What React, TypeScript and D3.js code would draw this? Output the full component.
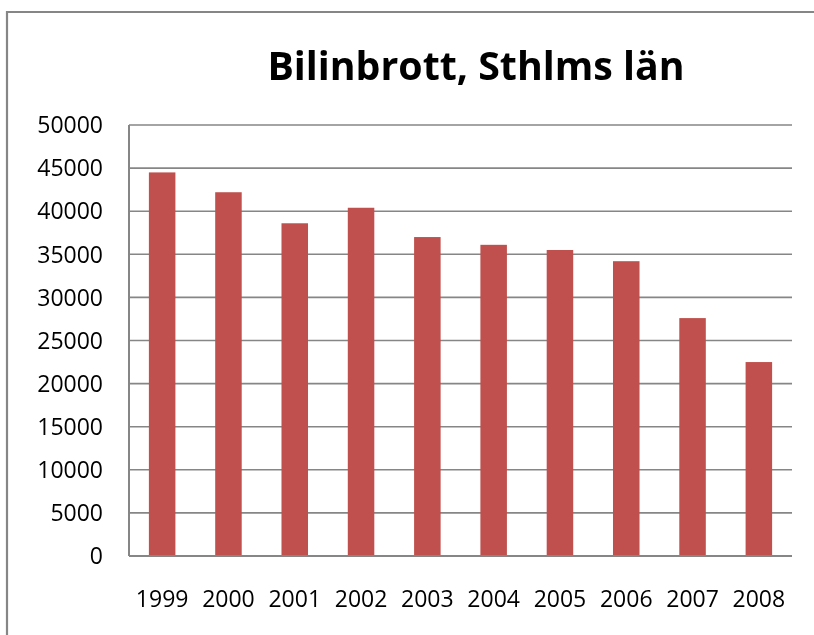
import React, { useRef, useEffect } from "react";
import * as d3 from "d3";

const years = ["1999", "2000", "2001", "2002", "2003", "2004", "2005", "2006", "2007", "2008"];
const crimes = [44500, 42200, 38600, 40400, 37000, 36100, 35500, 34200, 27600, 22500];
const yTicks = [0, 5000, 10000, 15000, 20000, 25000, 30000, 35000, 40000, 45000, 50000];

const W = 814;
const H = 635;

const App = () => {
  const ref = useRef<SVGSVGElement>(null);

  useEffect(() => {
    if (!ref.current) return;
    const svg = d3.select(ref.current);
    svg.selectAll("*").remove();

    const margin = { top: 125, right: 22, bottom: 79, left: 129 };
    const width = W - margin.left - margin.right;
    const height = H - margin.top - margin.bottom;
    const font = "'Open Sans', sans-serif";
    const grey = "#868686";

    // outer frame: only left and top edges are inside the picture
    svg
      .append("path")
      .attr("d", `M7,${H + 5} L7,12 L${W + 5},12`)
      .attr("fill", "none")
      .attr("stroke", grey)
      .attr("stroke-width", 2.2);

    svg
      .append("text")
      .attr("x", 476)
      .attr("y", 80)
      .attr("text-anchor", "middle")
      .attr("font-family", font)
      .attr("font-weight", "bold")
      .attr("font-size", 39.3)
      .attr("fill", "#000")
      .text("Bilinbrott, Sthlms län");

    const g = svg.append("g").attr("transform", `translate(${margin.left},${margin.top})`);

    const x = d3.scaleBand().domain(years).range([0, width]).paddingInner(0.6).paddingOuter(0.3);
    const y = d3.scaleLinear().domain([0, 50000]).range([height, 0]);

    g.selectAll(".grid")
      .data(yTicks.filter((t) => t > 0))
      .join("line")
      .attr("x1", 0)
      .attr("x2", width)
      .attr("y1", (d) => y(d))
      .attr("y2", (d) => y(d))
      .attr("stroke", grey)
      .attr("stroke-width", 1.6);

    g.selectAll(".bar")
      .data(crimes)
      .join("rect")
      .attr("x", (_, i) => x(years[i]) as number)
      .attr("y", (d) => y(d))
      .attr("width", x.bandwidth())
      .attr("height", (d) => height - y(d))
      .attr("fill", "#C0504D");

    // axis lines
    g.append("line")
      .attr("x1", 0)
      .attr("x2", 0)
      .attr("y1", 0)
      .attr("y2", height)
      .attr("stroke", grey)
      .attr("stroke-width", 2);
    g.append("line")
      .attr("x1", 0)
      .attr("x2", width)
      .attr("y1", height)
      .attr("y2", height)
      .attr("stroke", grey)
      .attr("stroke-width", 2);

    g.selectAll(".ylab")
      .data(yTicks)
      .join("text")
      .attr("x", -26)
      .attr("y", (d) => y(d))
      .attr("dy", "0.36em")
      .attr("text-anchor", "end")
      .attr("font-family", font)
      .attr("font-size", 23)
      .attr("fill", "#000")
      .text((d) => String(d));

    g.selectAll(".xlab")
      .data(years)
      .join("text")
      .attr("x", (d) => (x(d) as number) + x.bandwidth() / 2)
      .attr("y", height + 51)
      .attr("text-anchor", "middle")
      .attr("font-family", font)
      .attr("font-size", 23)
      .attr("fill", "#000")
      .text((d) => d);
  }, []);

  return (
    <div style={{ position: "fixed", left: 0, top: 0, overflow: "hidden", width: W, height: H }}>
      <svg ref={ref} width={W} height={H} style={{ display: "block" }} />
    </div>
  );
};

export default App;
